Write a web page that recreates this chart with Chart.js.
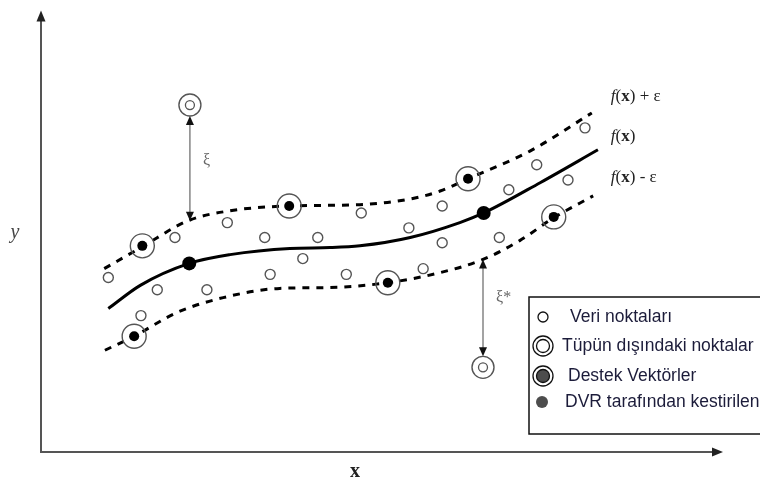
<!DOCTYPE html>
<html>
<head>
<meta charset="utf-8">
<script src="https://cdn.jsdelivr.net/npm/chart.js@4/dist/chart.umd.min.js"></script>
<style>
  html, body { margin: 0; padding: 0; background: #fff; }
  #wrap { width: 760px; height: 487px; }
</style>
</head>
<body>
<div id="wrap"><canvas id="c" width="760" height="487"></canvas></div>
<script>
// Regression curve f(x)
const fX = [0.99, 1.46, 2.18, 2.78, 3.66, 4.25, 4.69, 5.43, 6.16, 6.51, 7.34, 8.19];
const fY = [3.27, 3.80, 4.30, 4.50, 4.64, 4.66, 4.70, 4.89, 5.23, 5.45, 6.14, 6.89];

// Upper tube boundary f(x) + ε
const upX = [0.93, 1.49, 2.16, 2.78, 3.65, 4.69, 5.43, 5.87, 6.28, 7.19, 8.10];
const upY = [4.18, 4.68, 5.27, 5.50, 5.61, 5.64, 5.77, 5.95, 6.23, 6.86, 7.73];

// Lower tube boundary f(x) - ε
const loX = [0.94, 1.37, 2.00, 2.68, 3.51, 4.25, 5.10, 5.87, 6.50, 7.04, 7.54, 8.12];
const loY = [2.32, 2.64, 3.18, 3.52, 3.73, 3.75, 3.86, 4.09, 4.39, 4.82, 5.34, 5.84];

// Observations inside the tube
const obsX = [0.99, 1.97, 2.74, 3.29, 4.07, 3.85, 3.37, 1.71, 2.44, 1.47, 4.71, 5.41, 5.90, 5.90, 4.49, 5.62, 6.74, 6.88, 7.29, 7.75, 8.00];
const obsY = [3.98, 4.89, 5.23, 4.89, 4.89, 4.41, 4.05, 3.70, 3.70, 3.11, 5.45, 5.11, 5.61, 4.77, 4.05, 4.18, 4.89, 5.98, 6.55, 6.20, 7.39];

// Observations outside the tube
const outX = [2.19, 6.50];
const outY = [7.91, 1.93];

// Support vectors (on the tube boundaries)
const svX = [1.49, 3.65, 6.28, 1.37, 5.10, 7.54];
const svY = [4.70, 5.61, 6.23, 2.64, 3.86, 5.36];

// Values predicted by SVR
const predX = [2.18, 6.51];
const predY = [4.30, 5.45];

// Slack arrows: tube value at the same x
const slackTubeY = [5.27, 4.39];
const slackNames = ['ξ', 'ξ*'];

const curveLabels = ['f(x) + ε', 'f(x)', 'f(x) - ε'];
const legendLabels = ['Veri noktaları', 'Tüpün dışındaki noktalar', 'Destek Vektörler', 'DVR tarafından kestirilen'];

const zip = (xs, ys) => xs.map((x, i) => ({ x, y: ys[i] }));

const SERIF = '"Liberation Serif", "DejaVu Serif", serif';
const SANS = '"Liberation Sans", Arial, sans-serif';

function arrowHead(ctx, x, y, dir) {
  // dir: -1 points up, +1 points down
  ctx.beginPath();
  ctx.moveTo(x, y);
  ctx.lineTo(x - 4, y - dir * 9);
  ctx.lineTo(x + 4, y - dir * 9);
  ctx.closePath();
  ctx.fill();
}

// "f(x) ..." with italic f and bold x
function drawFxLabel(ctx, x, y, text) {
  const tail = text.slice(4);
  const parts = [
    ['f', 'italic 17px ' + SERIF],
    ['(', '17px ' + SERIF],
    ['x', 'bold 17px ' + SERIF],
    [')', '17px ' + SERIF],
    [tail, '17px ' + SERIF]
  ];
  let cx = x;
  ctx.textBaseline = 'middle';
  ctx.textAlign = 'left';
  for (const [t, f] of parts) {
    if (!t) continue;
    ctx.font = f;
    ctx.fillText(t, cx, y);
    cx += ctx.measureText(t).width;
  }
}

const decorations = {
  id: 'decorations',
  beforeDatasetsDraw(chart) {
    const { ctx, chartArea: a } = chart;
    ctx.save();
    // axes
    ctx.strokeStyle = '#555';
    ctx.fillStyle = '#222';
    ctx.lineWidth = 2;
    ctx.beginPath();
    ctx.moveTo(a.left, a.top + 4);
    ctx.lineTo(a.left, a.bottom);
    ctx.lineTo(a.right - 4, a.bottom);
    ctx.stroke();
    ctx.beginPath();
    ctx.moveTo(a.left, a.top - 3);
    ctx.lineTo(a.left - 4.5, a.top + 8);
    ctx.lineTo(a.left + 4.5, a.top + 8);
    ctx.closePath();
    ctx.fill();
    ctx.beginPath();
    ctx.moveTo(a.right + 2, a.bottom);
    ctx.lineTo(a.right - 9, a.bottom - 4.5);
    ctx.lineTo(a.right - 9, a.bottom + 4.5);
    ctx.closePath();
    ctx.fill();
    // axis names
    ctx.fillStyle = '#444';
    ctx.textAlign = 'center';
    ctx.textBaseline = 'middle';
    ctx.font = 'italic 20px ' + SERIF;
    ctx.fillText('y', 15, (a.top + a.bottom) / 2);
    ctx.fillStyle = '#222';
    ctx.font = 'bold 20px ' + SERIF;
    ctx.fillText('x', 355, a.bottom + 20);
    ctx.restore();
  },
  afterDatasetsDraw(chart) {
    const { ctx } = chart;
    const xs = chart.scales.x, ys = chart.scales.y;
    ctx.save();

    // slack arrows
    for (let i = 0; i < outX.length; i++) {
      const px = xs.getPixelForValue(outX[i]);
      const pOut = ys.getPixelForValue(outY[i]);
      const pTube = ys.getPixelForValue(slackTubeY[i]);
      const above = pOut < pTube;
      const yTop = above ? pOut + 11 : pTube;
      const yBot = above ? pTube : pOut - 11;
      ctx.strokeStyle = '#666';
      ctx.lineWidth = 1.2;
      ctx.beginPath();
      ctx.moveTo(px, yTop + 4);
      ctx.lineTo(px, yBot - 4);
      ctx.stroke();
      ctx.fillStyle = '#111';
      arrowHead(ctx, px, yTop, -1);
      arrowHead(ctx, px, yBot, 1);
      ctx.fillStyle = '#666';
      ctx.font = '16px ' + SERIF;
      ctx.textAlign = 'left';
      ctx.textBaseline = 'middle';
      const mid = above ? yTop + (yBot - yTop) * 0.43 : yTop + (yBot - yTop) * 0.4;
      ctx.fillText(slackNames[i], px + 13, mid);
    }

    // curve names
    ctx.fillStyle = '#222';
    const lx = xs.getPixelForValue(8.38);
    drawFxLabel(ctx, lx, ys.getPixelForValue(8.11), curveLabels[0]);
    drawFxLabel(ctx, lx, ys.getPixelForValue(7.20), curveLabels[1]);
    drawFxLabel(ctx, lx, ys.getPixelForValue(6.25), curveLabels[2]);

    // legend box
    const bx = 529, by = 297;
    ctx.strokeStyle = '#111';
    ctx.lineWidth = 1.5;
    ctx.strokeRect(bx, by, 260, 137);
    const rows = [by + 20, by + 49, by + 79, by + 105];
    const textX = [bx + 41, bx + 33, bx + 39, bx + 36];
    const sx = bx + 14;
    // open circle
    ctx.lineWidth = 1.3;
    ctx.strokeStyle = '#111';
    ctx.beginPath(); ctx.arc(sx, rows[0], 5, 0, Math.PI * 2); ctx.stroke();
    // double circle
    ctx.beginPath(); ctx.arc(sx, rows[1], 10, 0, Math.PI * 2); ctx.stroke();
    ctx.beginPath(); ctx.arc(sx, rows[1], 6.5, 0, Math.PI * 2); ctx.stroke();
    // ringed filled
    ctx.beginPath(); ctx.arc(sx, rows[2], 10, 0, Math.PI * 2); ctx.stroke();
    ctx.fillStyle = '#4d4d4d';
    ctx.beginPath(); ctx.arc(sx, rows[2], 6.5, 0, Math.PI * 2); ctx.fill(); ctx.stroke();
    // filled
    ctx.beginPath(); ctx.arc(sx - 1, rows[3], 6, 0, Math.PI * 2); ctx.fill();

    ctx.fillStyle = '#1c1c3a';
    ctx.font = '17.5px ' + SANS;
    ctx.textAlign = 'left';
    ctx.textBaseline = 'middle';
    legendLabels.forEach((t, i) => ctx.fillText(t, textX[i], rows[i]));

    ctx.restore();
  }
};

const lineBase = {
  showLine: true,
  pointRadius: 0,
  borderColor: '#000',
  borderWidth: 3,
  cubicInterpolationMode: 'monotone',
  fill: false,
  order: 5
};

new Chart(document.getElementById('c'), {
  type: 'scatter',
  data: {
    datasets: [
      { label: 'pred', data: zip(predX, predY), pointRadius: 7, pointBackgroundColor: '#000', pointBorderColor: '#000', pointBorderWidth: 0, order: 0 },
      { label: 'sv-core', data: zip(svX, svY), pointRadius: 5, pointBackgroundColor: '#000', pointBorderColor: '#000', pointBorderWidth: 0, order: 1 },
      { label: 'sv-ring', data: zip(svX, svY), pointRadius: 12, pointBackgroundColor: 'rgba(0,0,0,0)', pointBorderColor: '#555', pointBorderWidth: 1.4, order: 1 },
      { label: 'out-core', data: zip(outX, outY), pointRadius: 4.5, pointBackgroundColor: 'rgba(0,0,0,0)', pointBorderColor: '#555', pointBorderWidth: 1.3, order: 1 },
      { label: 'out-ring', data: zip(outX, outY), pointRadius: 11, pointBackgroundColor: 'rgba(0,0,0,0)', pointBorderColor: '#555', pointBorderWidth: 1.4, order: 1 },
      { label: 'obs', data: zip(obsX, obsY), pointRadius: 5, pointBackgroundColor: '#fff', pointBorderColor: '#555', pointBorderWidth: 1.4, order: 2 },
      Object.assign({ label: 'f(x)', data: zip(fX, fY) }, lineBase),
      Object.assign({ label: 'f(x)+ε', data: zip(upX, upY), borderDash: [7, 7] }, lineBase),
      Object.assign({ label: 'f(x)-ε', data: zip(loX, loY), borderDash: [7, 7] }, lineBase)
    ]
  },
  options: {
    responsive: false,
    animation: false,
    devicePixelRatio: 1,
    layout: { padding: { left: 41, right: 39, top: 12, bottom: 35 } },
    scales: {
      x: { type: 'linear', min: 0, max: 10, display: false },
      y: { type: 'linear', min: 0, max: 10, display: false }
    },
    plugins: { legend: { display: false }, tooltip: { enabled: false } },
    events: []
  },
  plugins: [decorations]
});
</script>
</body>
</html>
